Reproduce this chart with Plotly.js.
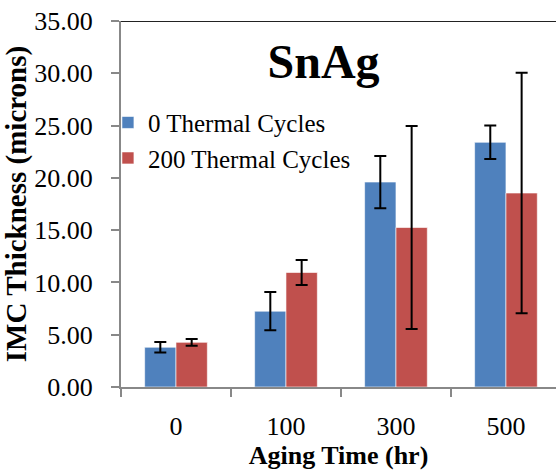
<!DOCTYPE html>
<html>
<head>
<meta charset="utf-8">
<script src="https://cdn.plot.ly/plotly-3.0.1.min.js"></script>
<style>html,body{margin:0;padding:0;background:#fff;}#chart{width:556px;height:470px;}</style>
</head>
<body>
<div id="chart"></div>
<script>
var categories = ["0", "100", "300", "500"];
var seriesNames = ["0 Thermal Cycles", "200 Thermal Cycles"];
var cycles0 = [3.8, 7.25, 19.6, 23.4];
var cycles0Err = [0.5, 1.83, 2.5, 1.6];
var cycles200 = [4.27, 10.95, 15.25, 18.55];
var cycles200Err = [0.33, 1.2, 9.7, 11.5];

var font = "'Liberation Serif', 'Times New Roman', serif";
var errStyle = {type: "data", visible: true, color: "#000", thickness: 2, width: 6};

var traces = [
  {type: "bar", name: seriesNames[0], x: categories, y: cycles0,
   error_y: Object.assign({array: cycles0Err}, errStyle),
   marker: {color: "#4F81BD", line: {color: "rgba(255,255,255,0.6)", width: 1}}},
  {type: "bar", name: seriesNames[1], x: categories, y: cycles200,
   error_y: Object.assign({array: cycles200Err}, errStyle),
   marker: {color: "#C0504D", line: {color: "rgba(255,255,255,0.6)", width: 1}}}
];

var layout = {
  width: 556, height: 470,
  margin: {l: 121, r: 0, t: 21, b: 83},
  paper_bgcolor: "#fff", plot_bgcolor: "#fff",
  font: {family: font, color: "#000"},
  barmode: "group", bargap: 0.43, bargroupgap: 0,
  showlegend: true,
  legend: {x: -0.03, y: 0.785, xanchor: "left", yanchor: "top", bgcolor: "rgba(0,0,0,0)",
           font: {size: 25, family: font}, tracegroupgap: 0, itemwidth: 30},
  title: {text: "<b>SnAg</b>", font: {size: 48, family: font}, x: 0.582, xanchor: "center",
          xref: "container", y: 0.834, yanchor: "bottom", yref: "container"},
  xaxis: {type: "category", range: [-0.5, 3.455], tickson: "boundaries", ticks: "outside",
          ticklen: 8, tickcolor: "#888", tickwidth: 2, showline: true, linecolor: "#888", linewidth: 2,
          showgrid: false, zeroline: false, ticklabelstandoff: 15,
          tickfont: {size: 26, family: font},
          title: {text: "<b>Aging Time (hr)</b>", font: {size: 26, family: font}, standoff: 6}},
  yaxis: {range: [0, 35], dtick: 5, tickformat: ".2f", ticks: "outside", ticklen: 8,
          tickcolor: "#888", tickwidth: 2, showline: true, linecolor: "#888", linewidth: 2,
          showgrid: false, zeroline: false, ticklabelstandoff: 13, tickfont: {size: 26, family: font},
          title: {text: "<b>IMC Thickness (microns)</b>", font: {size: 29, family: font}, standoff: 6}},
  shapes: [{type: "line", xref: "paper", yref: "y", x0: 0, x1: 1, y0: 35, y1: 35,
            line: {color: "#222", width: 2}}]
};

Plotly.newPlot("chart", traces, layout, {staticPlot: true, displayModeBar: false});
</script>
</body>
</html>
